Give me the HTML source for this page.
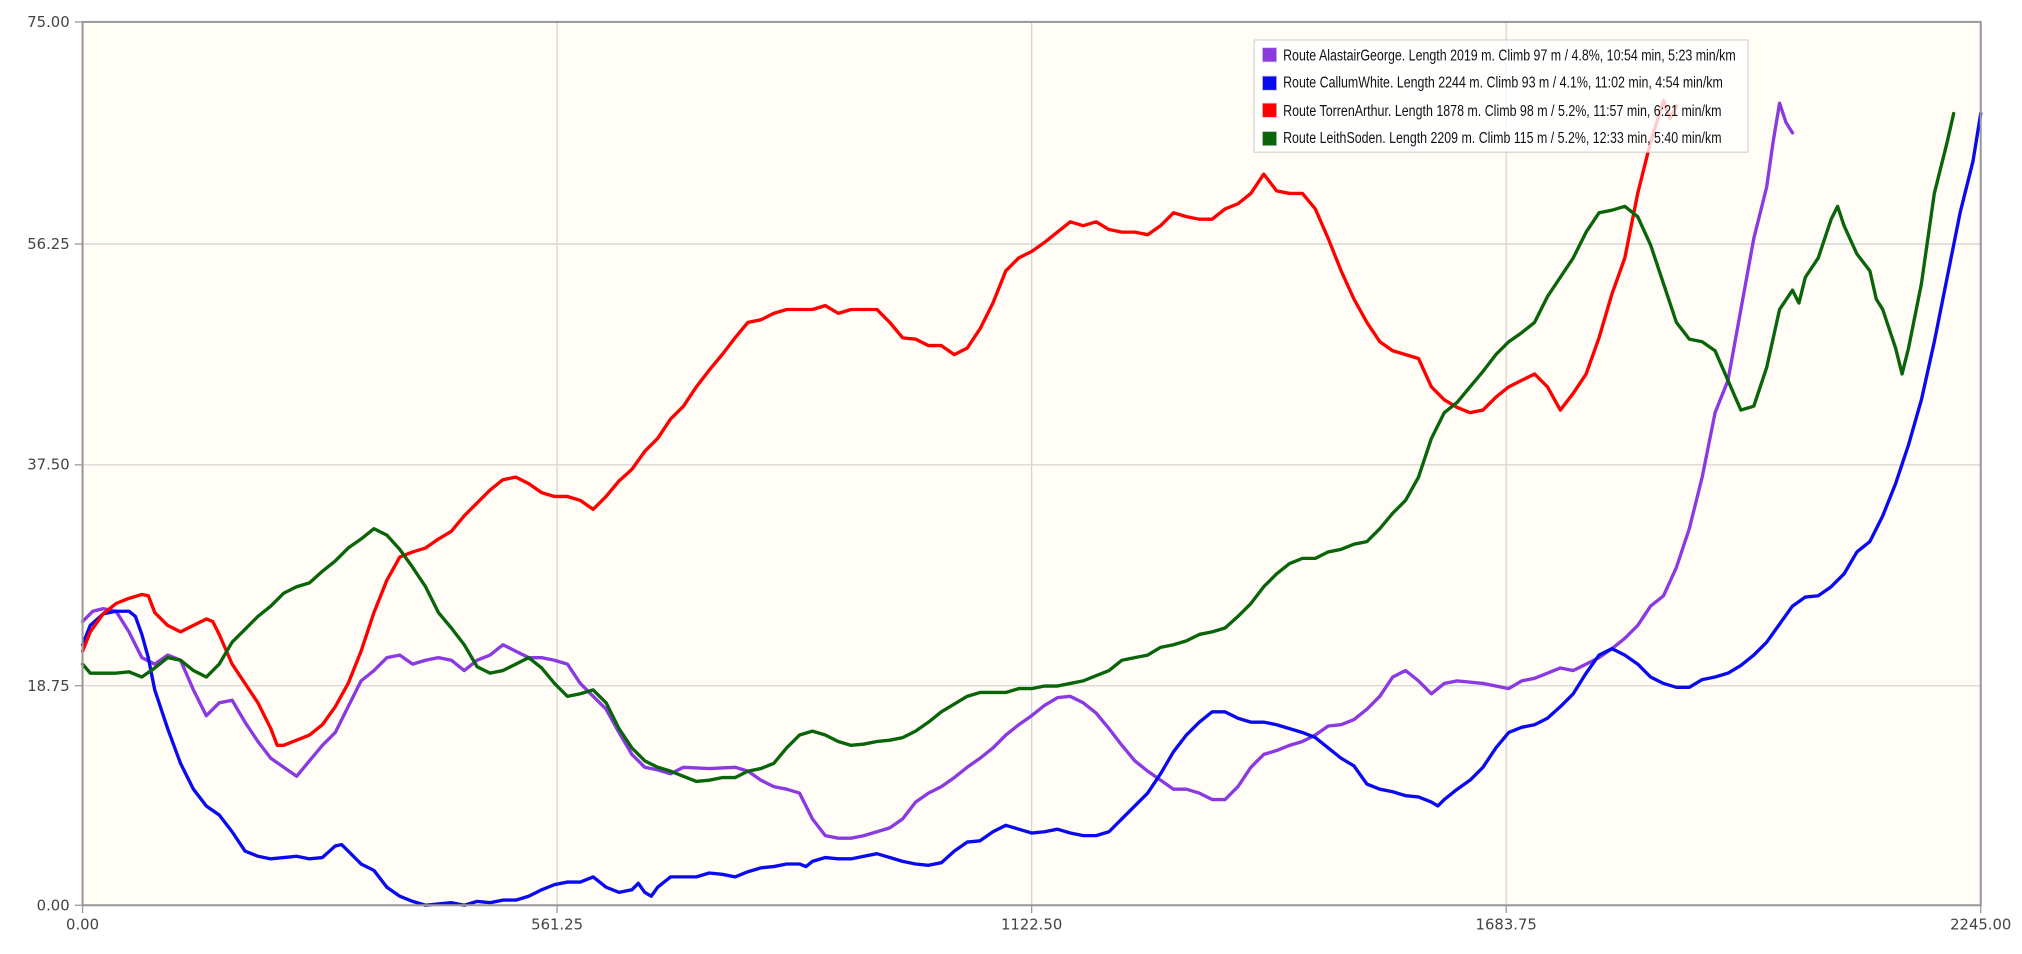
<!DOCTYPE html>
<html><head><meta charset="utf-8"><style>
html,body{margin:0;padding:0;background:#fff;width:2022px;height:954px;overflow:hidden}
svg{display:block}
text{font-family:"DejaVu Sans","Liberation Sans",sans-serif;fill:#444}
.lg text{font-family:"Liberation Sans",sans-serif;fill:#111}
</style></head><body>
<svg width="2022" height="954" viewBox="0 0 1568 739.8" xmlns="http://www.w3.org/2000/svg">
<rect x="64" y="17" width="1472" height="685" fill="#fffdf5"/>
<g stroke="#d4d4d4" stroke-width="1">
<line x1="432" y1="17" x2="432" y2="702"/><line x1="800" y1="17" x2="800" y2="702"/><line x1="1168" y1="17" x2="1168" y2="702"/>
<line x1="64" y1="531.75" x2="1536" y2="531.75"/><line x1="64" y1="360.5" x2="1536" y2="360.5"/><line x1="64" y1="189.25" x2="1536" y2="189.25"/>
</g>
<g stroke="#999" stroke-width="1">
<line x1="58" y1="17" x2="64" y2="17"/><line x1="58" y1="189.25" x2="64" y2="189.25"/><line x1="58" y1="360.5" x2="64" y2="360.5"/><line x1="58" y1="531.75" x2="64" y2="531.75"/><line x1="58" y1="702" x2="64" y2="702"/>
<line x1="64" y1="702" x2="64" y2="708"/><line x1="432" y1="702" x2="432" y2="708"/><line x1="800" y1="702" x2="800" y2="708"/><line x1="1168" y1="702" x2="1168" y2="708"/><line x1="1536" y1="702" x2="1536" y2="708"/>
</g>
<g font-size="11.5" text-anchor="end">
<text x="54" y="21">75.00</text><text x="54" y="193">56.25</text><text x="54" y="364">37.50</text><text x="54" y="536">18.75</text><text x="54" y="706">0.00</text>
</g>
<g font-size="11.5" text-anchor="middle">
<text x="64" y="721">0.00</text><text x="432" y="721">561.25</text><text x="800" y="721">1122.50</text><text x="1168" y="721">1683.75</text><text x="1536" y="721">2245.00</text>
</g>
<g fill="none" stroke-width="2.6" stroke-linejoin="round" stroke-linecap="round">
<polyline stroke="#8a3ae0" points="64,482 72,474 80,472 90,474 100,490 110,510 120,515 130,508 140,512 150,535 160,555 170,545 180,543 190,560 200,575 210,588 220,595 230,602 240,590 250,578 260,568 270,548 280,528 290,520 300,510 310,508 320,515 330,512 340,510 350,512 360,520 370,512 380,508 390,500 400,505 410,510 420,510 430,512 440,515 450,530 460,540 470,550 480,568 490,585 500,595 510,597 520,600 530,595 550,596 570,595 580,598 590,605 600,610 610,612 620,615 630,635 640,648 650,650 660,650 670,648 680,645 690,642 700,635 710,622 720,615 730,610 740,603 750,595 760,588 770,580 780,570 790,562 800,555 810,547 820,541 830,540 840,545 850,553 860,565 870,578 880,590 890,598 900,605 910,612 920,612 930,615 940,620 950,620 960,610 970,595 980,585 990,582 1000,578 1010,575 1020,570 1030,563 1040,562 1050,558 1060,550 1070,540 1080,525 1090,520 1100,528 1110,538 1120,530 1130,528 1150,530 1170,534 1180,528 1190,526 1200,522 1210,518 1220,520 1230,515 1240,510 1250,503 1260,495 1270,485 1280,470 1290,462 1300,440 1310,410 1320,370 1330,320 1340,295 1350,240 1360,185 1370,145 1375,110 1380,80 1385,95 1390,103"/>
<polyline stroke="#0a0af0" points="64,500 70,485 80,476 90,474 100,474 105,478 110,492 115,510 120,535 130,565 140,592 150,612 160,625 170,632 180,645 190,660 200,664 210,666 220,665 230,664 240,666 250,665 260,656 265,655 270,660 280,670 290,675 300,688 310,695 320,699 330,702 340,701 350,700 360,702 370,699 380,700 390,698 400,698 410,695 420,690 430,686 440,684 450,684 460,680 470,688 480,692 490,690 495,685 500,692 505,695 510,688 520,680 530,680 540,680 550,677 560,678 570,680 580,676 590,673 600,672 610,670 620,670 625,672 630,668 640,665 650,666 660,666 670,664 680,662 690,665 700,668 710,670 720,671 730,669 740,660 750,653 760,652 770,645 780,640 790,643 800,646 810,645 820,643 830,646 840,648 850,648 860,645 870,635 880,625 890,615 900,600 910,583 920,570 930,560 940,552 950,552 960,557 970,560 980,560 990,562 1000,565 1010,568 1020,572 1030,580 1040,588 1050,594 1060,608 1070,612 1080,614 1090,617 1100,618 1110,622 1115,625 1120,620 1130,612 1140,605 1150,595 1160,580 1170,568 1180,564 1190,562 1200,557 1210,548 1220,538 1230,522 1240,508 1250,503 1260,508 1270,515 1280,525 1290,530 1300,533 1310,533 1320,527 1330,525 1340,522 1350,516 1360,508 1370,498 1380,484 1390,470 1400,463 1410,462 1420,455 1430,445 1440,428 1450,420 1460,400 1470,375 1480,345 1490,310 1500,265 1510,215 1520,165 1530,125 1536,88"/>
<polyline stroke="#f00" points="64,505 70,490 80,476 90,468 100,464 110,461 115,462 120,475 130,485 140,490 150,485 160,480 165,482 170,492 180,515 190,530 200,545 210,565 215,578 220,578 230,574 240,570 250,562 260,548 270,530 280,505 290,475 300,450 310,432 320,428 330,425 340,418 350,412 360,400 370,390 380,380 390,372 400,370 410,375 420,382 430,385 440,385 450,388 460,395 470,385 480,373 490,364 500,350 510,340 520,325 530,315 540,300 550,287 560,275 570,262 580,250 590,248 600,243 610,240 620,240 630,240 640,237 650,243 660,240 670,240 680,240 690,250 700,262 710,263 720,268 730,268 740,275 750,270 760,255 770,235 780,210 790,200 800,195 810,188 820,180 830,172 840,175 850,172 860,178 870,180 880,180 890,182 900,175 910,165 920,168 930,170 940,170 950,162 960,158 970,150 980,135 990,148 1000,150 1010,150 1020,162 1030,185 1040,210 1050,232 1060,250 1070,265 1080,272 1090,275 1100,278 1110,300 1120,310 1130,316 1140,320 1150,318 1160,308 1170,300 1180,295 1190,290 1200,300 1210,318 1220,305 1230,290 1240,262 1250,228 1260,200 1270,150 1280,110 1290,78 1295,92 1300,82"/>
<polyline stroke="#0a640a" points="64,515 70,522 80,522 90,522 100,521 110,525 120,518 130,510 140,512 150,520 160,525 170,515 180,498 190,488 200,478 210,470 220,460 230,455 240,452 250,443 260,435 270,425 280,418 290,410 300,415 310,426 320,440 330,455 340,475 350,487 360,500 370,517 380,522 390,520 400,515 410,510 420,518 430,530 440,540 450,538 460,535 470,545 480,565 490,580 500,590 510,595 520,598 530,602 540,606 550,605 560,603 570,603 580,598 590,596 600,592 610,580 620,570 630,567 640,570 650,575 660,578 670,577 680,575 690,574 700,572 710,567 720,560 730,552 740,546 750,540 760,537 770,537 780,537 790,534 800,534 810,532 820,532 830,530 840,528 850,524 860,520 870,512 880,510 890,508 900,502 910,500 920,497 930,492 940,490 950,487 960,478 970,468 980,455 990,445 1000,437 1010,433 1020,433 1030,428 1040,426 1050,422 1060,420 1070,410 1080,398 1090,388 1100,370 1110,340 1120,320 1130,312 1140,300 1150,288 1160,275 1170,265 1180,258 1190,250 1200,230 1210,215 1220,200 1230,180 1240,165 1250,163 1260,160 1270,168 1280,190 1290,220 1300,250 1310,263 1320,265 1330,272 1340,295 1350,318 1360,315 1370,285 1380,240 1390,225 1395,235 1400,215 1410,200 1420,170 1425,160 1430,175 1440,197 1450,210 1455,232 1460,240 1470,270 1475,290 1480,270 1490,220 1500,150 1510,110 1515,88"/>
</g>
<rect x="64" y="17" width="1472" height="685" fill="none" stroke="#999" stroke-width="1.6"/>
<rect x="972.5" y="31" width="383" height="87" fill="#fff" fill-opacity="0.8" stroke="#ccc" stroke-width="0.8"/>
<g class="lg" font-size="12.5">
<rect x="979" y="37" width="11" height="11" fill="#8a3ae0" stroke="#ccc" stroke-width="0.6"/><text x="995" y="47" textLength="351" lengthAdjust="spacingAndGlyphs">Route AlastairGeorge. Length 2019 m. Climb 97 m / 4.8%, 10:54 min, 5:23 min/km</text>
<rect x="979" y="59" width="11" height="11" fill="#0a0af0" stroke="#ccc" stroke-width="0.6"/><text x="995" y="68" textLength="341" lengthAdjust="spacingAndGlyphs">Route CallumWhite. Length 2244 m. Climb 93 m / 4.1%, 11:02 min, 4:54 min/km</text>
<rect x="979" y="80" width="11" height="11" fill="#f00" stroke="#ccc" stroke-width="0.6"/><text x="995" y="90" textLength="340" lengthAdjust="spacingAndGlyphs">Route TorrenArthur. Length 1878 m. Climb 98 m / 5.2%, 11:57 min, 6:21 min/km</text>
<rect x="979" y="102" width="11" height="11" fill="#0a640a" stroke="#ccc" stroke-width="0.6"/><text x="995" y="111" textLength="340" lengthAdjust="spacingAndGlyphs">Route LeithSoden. Length 2209 m. Climb 115 m / 5.2%, 12:33 min, 5:40 min/km</text>
</g>
</svg>
</body></html>
